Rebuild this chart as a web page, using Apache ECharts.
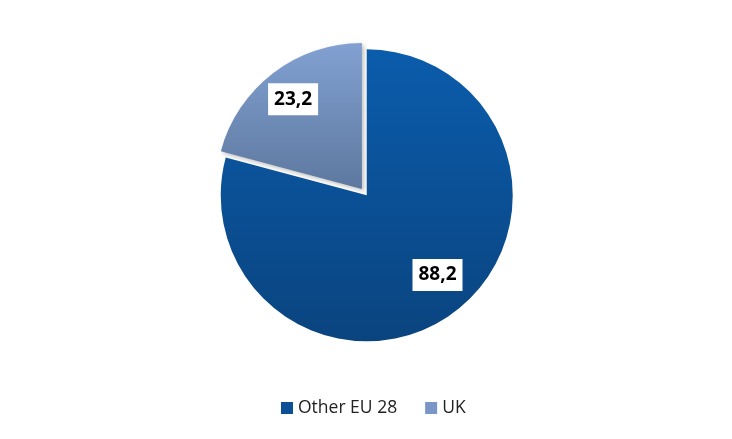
<!DOCTYPE html>
<html>
<head>
<meta charset="utf-8">
<script src="https://cdn.jsdelivr.net/npm/echarts@6/dist/echarts.min.js"></script>
<style>html,body{margin:0;padding:0;background:#fff;}#c{width:732px;height:439px;}</style>
</head>
<body>
<div id="c"></div>
<script>
const categories = ['Other EU 28', 'UK'];
const values = [88.2, 23.2];
const labelTexts = ['88,2', '23,2'];

const fills = [
  new echarts.graphic.LinearGradient(0, 0, 0, 1, [
    {offset: 0, color: '#0b5cac'}, {offset: 1, color: '#0a447f'}]),
  new echarts.graphic.LinearGradient(0, 0, 0, 1, [
    {offset: 0, color: '#82a1d2'}, {offset: 1, color: '#5d789f'}])
];
const legendColors = ['#0b4f96', '#7a96c6'];
const labelShift = [[2, -10], [0, 3]];

const chart = echarts.init(document.getElementById('c'), null, {renderer: 'canvas'});
const center = ['50.1%', '44.5%'];
chart.setOption({
  animation: false,
  legend: {
    bottom: 17,
    left: 276,
    itemWidth: 12,
    itemHeight: 12,
    itemGap: 28,
    icon: 'rect',
    textStyle: {fontFamily: 'Open Sans, Liberation Sans, sans-serif', fontSize: 17.5, color: '#222'},
    data: categories.map((c, i) => ({name: c, itemStyle: {color: legendColors[i]}}))
  },
  series: [
    {
      type: 'pie',
      radius: [0, 146],
      center: center,
      startAngle: 90,
      clockwise: true,
      selectedMode: 'single',
      selectedOffset: 8,
      label: {show: false},
      labelLine: {show: false},
      emphasis: {disabled: true},
      data: categories.map((c, i) => ({
        name: c, value: values[i], selected: i === 1,
        itemStyle: {color: fills[i], shadowColor: i === 1 ? 'rgba(0,0,0,0.25)' : 'transparent', shadowBlur: i === 1 ? 4 : 0, shadowOffsetX: 2, shadowOffsetY: 2}
      }))
    },
    {
      type: 'pie',
      radius: [0, 220],
      center: center,
      startAngle: 90,
      clockwise: true,
      silent: true,
      selectedMode: 'single',
      selectedOffset: 8,
      legendHoverLink: false,
      itemStyle: {color: 'transparent'},
      label: {
        show: true,
        position: 'inner',
        formatter: p => labelTexts[p.dataIndex],
        backgroundColor: '#fff',
        padding: [7, 6, 6, 6],
        color: '#000',
        fontWeight: 'bold',
        fontSize: 19,
        fontFamily: 'Open Sans, Liberation Sans, sans-serif'
      },
      labelLine: {show: false},
      data: categories.map((c, i) => ({name: c + ' ', value: values[i], selected: i === 1, label: {offset: labelShift[i]}}))
    }
  ]
});
</script>
</body>
</html>
